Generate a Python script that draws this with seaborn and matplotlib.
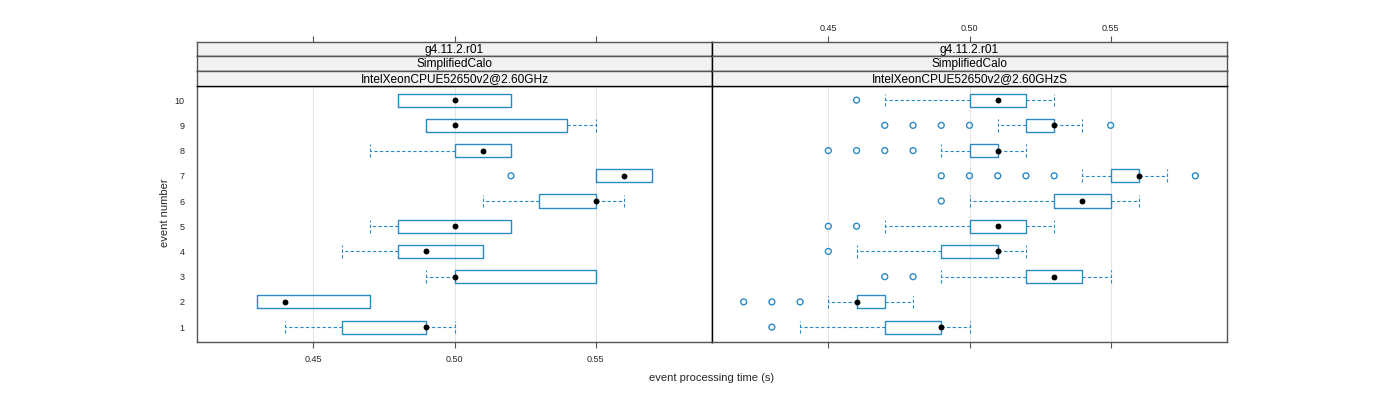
import matplotlib
matplotlib.use("Agg")
import matplotlib.pyplot as plt
import seaborn as sns
import pandas as pd

sns.set_theme(style="white")
plt.rcParams['font.family'] = ['Liberation Sans', 'DejaVu Sans']

events = [1, 2, 3, 4, 5, 6, 7, 8, 9, 10]
strip_labels = [
    ["g4.11.2.r01", "SimplifiedCalo", "IntelXeonCPUE52650v2@2.60GHz"],
    ["g4.11.2.r01", "SimplifiedCalo", "IntelXeonCPUE52650v2@2.60GHzS"],
]

# five-number summaries, per event (1..10)
left_lo = [0.44, 0.43, 0.49, 0.46, 0.47, 0.51, 0.55, 0.47, 0.49, 0.48]
left_q1 = [0.46, 0.43, 0.50, 0.48, 0.48, 0.53, 0.55, 0.50, 0.49, 0.48]
left_med = [0.49, 0.44, 0.50, 0.49, 0.50, 0.55, 0.56, 0.51, 0.50, 0.50]
left_q3 = [0.49, 0.47, 0.55, 0.51, 0.52, 0.55, 0.57, 0.52, 0.54, 0.52]
left_hi = [0.50, 0.47, 0.55, 0.51, 0.52, 0.56, 0.57, 0.52, 0.55, 0.52]
left_out = [[], [], [], [], [], [], [0.52], [], [], []]

right_lo = [0.44, 0.45, 0.49, 0.46, 0.47, 0.50, 0.54, 0.49, 0.51, 0.47]
right_q1 = [0.47, 0.46, 0.52, 0.49, 0.50, 0.53, 0.55, 0.50, 0.52, 0.50]
right_med = [0.49, 0.46, 0.53, 0.51, 0.51, 0.54, 0.56, 0.51, 0.53, 0.51]
right_q3 = [0.49, 0.47, 0.54, 0.51, 0.52, 0.55, 0.56, 0.51, 0.53, 0.52]
right_hi = [0.50, 0.48, 0.55, 0.52, 0.53, 0.56, 0.57, 0.52, 0.54, 0.53]
right_out = [[0.43], [0.42, 0.43, 0.44], [0.47, 0.48], [0.45], [0.45, 0.46],
             [0.49], [0.49, 0.50, 0.51, 0.52, 0.53, 0.58],
             [0.45, 0.46, 0.47, 0.48], [0.47, 0.48, 0.49, 0.50, 0.55], [0.46]]

panels = [
    (left_lo, left_q1, left_med, left_q3, left_hi, left_out),
    (right_lo, right_q1, right_med, right_q3, right_hi, right_out),
]

blue = '#2a8bc7'
frame = '#555555'
xticks = [0.45, 0.50, 0.55]
xlim = (0.4088, 0.5912)

fig = plt.figure(figsize=(14, 4), dpi=100)
W, H = 1400.0, 400.0
x0s = [197, 712]
pw = 515
ptop, pbot = 85.5, 341.5
sh = 14.6

for i, (lo, q1, med, q3, hi, out) in enumerate(panels):
    ax = fig.add_axes([x0s[i] / W, 1 - pbot / H, pw / W, (pbot - ptop) / H])
    stats = []
    for j, e in enumerate(events):
        stats.append(dict(whislo=lo[j], q1=q1[j], med=med[j], q3=q3[j],
                          whishi=hi[j], fliers=[], label=str(e)))
    for g in xticks:
        ax.axvline(g, color='#e6e6e6', lw=0.8, zorder=0)
    dash = (0, (3, 2))
    ax.bxp(stats, positions=events, widths=0.52, capwidths=0.5,
           orientation='horizontal', showfliers=False,
           boxprops=dict(color=blue, lw=1.0),
           whiskerprops=dict(color=blue, lw=0.8, linestyle=dash),
           capprops=dict(color=blue, lw=0.8, linestyle=dash),
           medianprops=dict(lw=0))
    meds = pd.DataFrame({'time': med, 'event': events})
    sns.scatterplot(data=meds, x='time', y='event', ax=ax, color='black',
                    s=18, edgecolor='black', linewidth=0, zorder=5)
    rows = [(t, e) for e, ts in zip(events, out) for t in ts]
    if rows:
        outs = pd.DataFrame(rows, columns=['time', 'event'])
        sns.scatterplot(data=outs, x='time', y='event', ax=ax,
                        facecolors='none', edgecolor=blue, linewidth=1.0,
                        s=18, marker='o', zorder=4)
    ax.set_xlim(*xlim)
    ax.set_ylim(0.43, 10.58)
    ax.set_xticks(xticks)
    ax.set_yticks(events)
    ax.set_xlabel('')
    ax.set_ylabel('')
    ax.tick_params(axis='x', bottom=True, length=4, width=0.8, color=frame,
                   labelsize=6.5, pad=6, labelbottom=(i == 0))
    ax.tick_params(axis='y', left=False, length=0, labelsize=6.5, pad=9,
                   labelleft=(i == 0))
    ax.xaxis.set_major_formatter(plt.FormatStrFormatter('%.2f'))
    for s in ax.spines.values():
        s.set_color(frame)
        s.set_linewidth(1.0)
    if i == 0:
        ax.spines['right'].set_color('black')
    else:
        ax.spines['left'].set_color('black')

    # strips
    for k, lab in enumerate(strip_labels[i]):
        top = ptop - sh * (3 - k)
        sax = fig.add_axes([x0s[i] / W, 1 - (top + sh) / H, pw / W, sh / H])
        sax.set_facecolor('#f2f2f2')
        sax.set_xlim(*xlim)
        sax.set_yticks([])
        if k == 0:
            sax.set_xticks(xticks)
            sax.xaxis.tick_top()
            sax.tick_params(axis='x', top=True, bottom=False, length=4,
                            width=0.8, color=frame, labelsize=6.5, pad=2,
                            labeltop=(i == 1), labelbottom=False)
            sax.xaxis.set_major_formatter(plt.FormatStrFormatter('%.2f'))
        else:
            sax.set_xticks([])
        sax.text(0.5, 0.46, lab, transform=sax.transAxes, ha='center',
                 va='center', fontsize=8.6, color='black')
        for name, s in sax.spines.items():
            s.set_linewidth(1.0)
            s.set_color(frame if name in ('top', 'left', 'right') else 'black')
        if i == 0:
            sax.spines['right'].set_color('black')
        else:
            sax.spines['left'].set_color('black')

fig.text(712 / W, 1 - 378 / H, 'event processing time (s)', ha='center',
         va='center', fontsize=8)
fig.text(165 / W, 1 - 213 / H, 'event number', ha='center', va='center',
         rotation=90, fontsize=8)

fig.savefig('out.png', dpi=100)
